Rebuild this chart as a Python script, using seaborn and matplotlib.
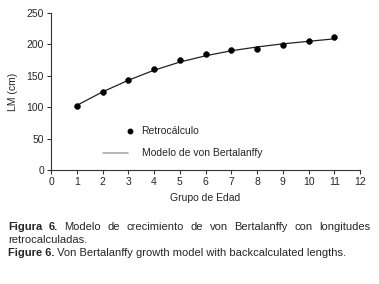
import matplotlib
matplotlib.use("Agg")
import matplotlib.pyplot as plt
import seaborn as sns
import pandas as pd
from matplotlib.lines import Line2D

edad = [1, 2, 3, 4, 5, 6, 7, 8, 9, 10, 11]
retro = [102.5, 124, 144, 161, 176, 185, 191, 193, 199.5, 206, 211.5]
modelo = [103, 124.5, 143, 159, 172, 182, 190, 196, 201, 205, 209]
xticks = list(range(0, 13))
yticks = [0, 50, 100, 150, 200, 250]

sns.set_style("white")
plt.rcParams['font.family'] = ['Liberation Sans', 'DejaVu Sans']

fig = plt.figure(figsize=(3.79, 2.84), dpi=100)
ax = fig.add_axes([0.1346, 0.401, 0.8154, 0.553])

df = pd.DataFrame({"edad": edad, "retro": retro, "modelo": modelo})
sns.lineplot(data=df, x="edad", y="modelo", ax=ax, color="#222222", linewidth=0.9)
sns.scatterplot(data=df, x="edad", y="retro", ax=ax, color="black", s=18, edgecolor="black", zorder=3)

ax.set_xlim(0, 12)
ax.set_ylim(0, 250)
ax.set_xticks(xticks)
ax.set_yticks(yticks)
ax.tick_params(axis='both', labelsize=7.5, length=3, width=0.8, direction='out', color='#333333', pad=2)
ax.tick_params(axis='x', bottom=True)
ax.tick_params(axis='y', left=True)
for s in ['top', 'right']:
    ax.spines[s].set_visible(False)
for s in ['left', 'bottom']:
    ax.spines[s].set_color('#333333')
    ax.spines[s].set_linewidth(0.8)
ax.set_xlabel("Grupo de Edad", fontsize=7.5, labelpad=4)
ax.set_ylabel("LM (cm)", fontsize=7.5, labelpad=6)

h1 = [Line2D([], [], marker='o', color='black', linestyle='none', markersize=3.2)]
leg1 = ax.legend(h1, ["Retrocálculo"], frameon=False, fontsize=7.5, loc='center left',
                 bbox_to_anchor=(0.242, 0.248), handlelength=0.8, handletextpad=0.65,
                 borderpad=0, borderaxespad=0)
ax.add_artist(leg1)
h2 = [Line2D([], [], color='#aaaaaa', linewidth=1.2)]
ax.legend(h2, ["Modelo de von Bertalanffy"], frameon=False, fontsize=7.5, loc='center left',
          bbox_to_anchor=(0.168, 0.108), handlelength=2.4, handletextpad=1.35,
          borderpad=0, borderaxespad=0)

# caption
fs = 8
fig.canvas.draw()
renderer = fig.canvas.get_renderer()
x0, x1 = 8 / 379, 370 / 379
y1 = 1 - 227 / 284
words = [("Figura", True), ("6.", True), ("Modelo", False), ("de", False), ("crecimiento", False),
         ("de", False), ("von", False), ("Bertalanffy", False), ("con", False), ("longitudes", False)]
texts = []
for w, b in words:
    t = fig.text(0, y1, w, fontsize=fs, fontweight='bold' if b else 'normal', va='center', ha='left')
    texts.append(t)
widths = [t.get_window_extent(renderer).width / fig.bbox.width for t in texts]
gap = (x1 - x0 - sum(widths)) / (len(words) - 1)
x = x0
for t, w in zip(texts, widths):
    t.set_x(x)
    x += w + gap

fig.text(x0, 1 - 240 / 284, "retrocalculadas.", fontsize=fs, va='center', ha='left')
t1 = fig.text(x0, 1 - 253 / 284, "Figure 6.", fontsize=fs, fontweight='bold', va='center', ha='left')
w1 = t1.get_window_extent(renderer).width / fig.bbox.width
fig.text(x0 + w1, 1 - 253 / 284, " Von Bertalanffy growth model with backcalculated lengths.",
         fontsize=fs, va='center', ha='left')

fig.savefig("out.png", dpi=100)
